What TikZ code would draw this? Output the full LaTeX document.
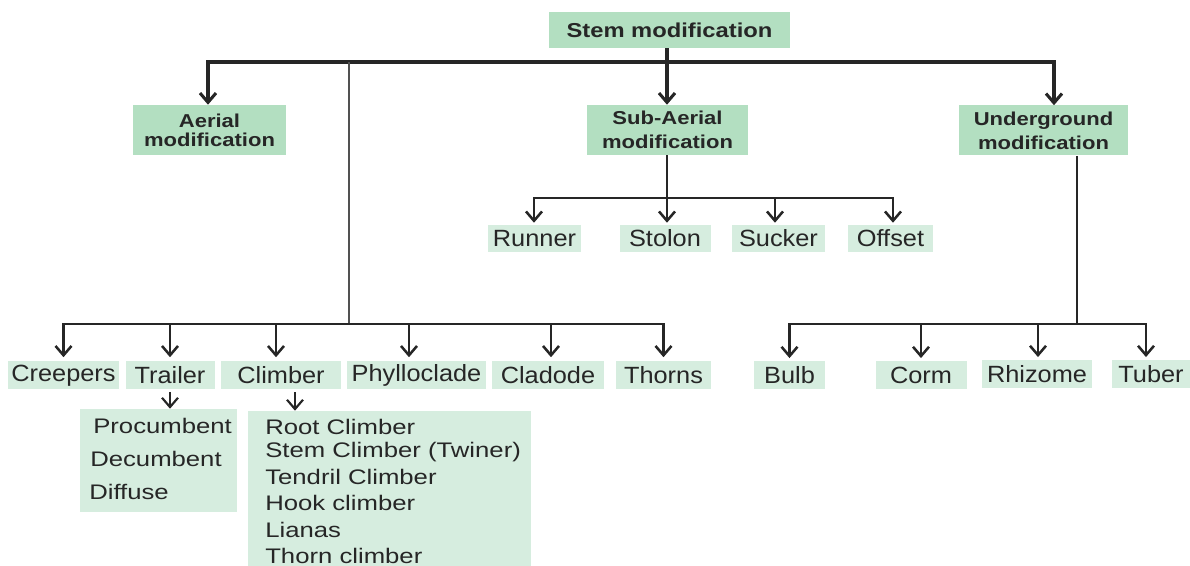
\documentclass[tikz,border=0pt]{standalone}
\usepackage{fontspec}
\setmainfont{Liberation Sans}
\newfontfamily\boldwide[FakeStretch=1.18]{Liberation Sans}
\newfontfamily\leafwide[FakeStretch=1.08]{Liberation Sans}
\newfontfamily\listwide[FakeStretch=1.22]{Liberation Sans}
\usetikzlibrary{arrows.meta}
\definecolor{boxA}{HTML}{B3DFC1}
\definecolor{boxB}{HTML}{D6EDDF}
\definecolor{txt}{HTML}{262626}
\definecolor{ln}{HTML}{262626}
\tikzset{
  wh/.style 2 args={minimum width=#1*0.75pt,minimum height=#2*0.75pt},
  top/.style={fill=boxA,inner sep=0pt,text=txt,align=center,font=\boldwide\fontsize{14}{18}\selectfont\bfseries},
  leaf/.style={fill=boxB,inner sep=0pt,text=txt,font=\leafwide\fontsize{17.6}{20}\selectfont},
  item/.style={anchor=west,inner sep=0pt,text=txt,font=\listwide\fontsize{15.8}{18}\selectfont},
  bus/.style={draw=ln,line width=2.3pt},
  wire/.style={draw=ln,line width=1.9pt},
  trunk/.style={draw=ln!80,line width=1.9pt},
  >={Straight Barb[length=7pt,width=12pt]},
}
\begin{document}
\begin{tikzpicture}[x=0.75pt,y=-0.75pt]
\useasboundingbox (0,0) rectangle (1190,566);
% level 0 and 1
\node[top,wh={241}{36},font=\boldwide\fontsize{15.1}{17}\selectfont\bfseries] (stem) at (669.5,30) {Stem modification};
\node[top,wh={153}{50},font=\boldwide\fontsize{14}{14.5}\selectfont\bfseries] (aerial) at (209.5,130) {\raisebox{-8pt}{\parbox{100pt}{\centering Aerial\\modification}}};
\node[top,wh={161}{50}] (subaerial) at (667.5,130) {Sub-Aerial\\modification};
\node[top,wh={169}{50}] (under) at (1043.5,130.5) {Underground\\modification};
% sub-aerial leaves
\node[leaf,wh={93}{27}] (runner) at (534.5,238.5) {Runner};
\node[leaf,wh={91}{27}] (stolon) at (665,238.5) {Stolon};
\node[leaf,wh={93}{27}] (sucker) at (778.5,238.5) {Sucker};
\node[leaf,wh={85}{27}] (offset) at (890.5,238.5) {Offset};
% aerial leaves
\node[leaf,wh={111}{28}] (creepers) at (63.5,375.5) {Creepers};
\node[leaf,wh={89}{28}] (trailer) at (170,375.5) {Trailer};
\node[leaf,wh={120}{28}] (climber) at (281,375.5) {Climber};
\node[leaf,wh={139}{28}] (phyllo) at (416.5,375.5) {Phylloclade};
\node[leaf,wh={112}{28}] (cladode) at (548,375.5) {Cladode};
\node[leaf,wh={95}{28}] (thorns) at (663.5,375.5) {Thorns};
% underground leaves
\node[leaf,wh={71}{28}] (bulb) at (789.5,375) {Bulb};
\node[leaf,wh={91}{28}] (corm) at (921,375) {Corm};
\node[leaf,wh={110}{28}] (rhizome) at (1037,374) {Rhizome};
\node[leaf,wh={78}{28}] (tuber) at (1151,374) {Tuber};
% sub lists
\node[fill=boxB,inner sep=0pt,wh={157}{103}] (tsub) at (158.5,460.5) {};
\node[item] (t1) at (93,426) {Procumbent};
\node[item] (t2) at (90,459) {Decumbent};
\node[item] (t3) at (89,492) {Diffuse};
\node[fill=boxB,inner sep=0pt,wh={283}{155}] (csub) at (389.5,488.5) {};
\node[item] (c1) at (265,427) {Root Climber};
\node[item] (c2) at (265,452) {Stem Climber (Twiner)};
\node[item] (c3) at (265,477) {Tendril Climber};
\node[item] (c4) at (265,503) {Hook climber};
\node[item] (c5) at (265,530) {Lianas};
\node[item] (c6) at (265,555.5) {Thorn climber};
% connector coordinates
\coordinate (tbus) at (667,62);
\coordinate (tL) at (208,62);
\coordinate (tR) at (1054,62);
\coordinate (ajunc) at (349,62);
\coordinate (abus) at (349,324);
\coordinate (sbus) at (667,198);
\coordinate (sL) at (534,198);
\coordinate (sS) at (775,198);
\coordinate (sR) at (893,198);
\coordinate (aClimb) at (276,324);
\coordinate (aPhyl) at (409,324);
\coordinate (aClad) at (551,324);
\coordinate (ubus) at (1077,324);
\coordinate (uRh) at (1038,324);
\coordinate (uTu) at (1146,324);
\coordinate (carr) at (295,0);
% level 0 -> 1
\draw[bus,<->] (aerial.north -| tL) |- (tbus) -| (under.north -| tR);
\draw[bus,->] (stem.south -| tbus) -- (subaerial.north -| tbus);
% aerial
\draw[trunk] (ajunc) -- (abus);
\draw[wire,<->,shorten <=3pt,shorten >=3pt] (creepers.north) |- (abus) -| (thorns.north);
\draw[wire,->,shorten >=3pt] (trailer.north |- abus) -- (trailer.north);
\draw[wire,->,shorten >=3pt] (aClimb) -- (climber.north -| aClimb);
\draw[wire,->,shorten >=3pt] (aPhyl) -- (phyllo.north -| aPhyl);
\draw[wire,->,shorten >=3pt] (aClad) -- (cladode.north -| aClad);
% sub-aerial
\draw[wire,->,shorten >=1.5pt] (subaerial.south -| sbus) -- (stolon.north -| sbus);
\draw[wire,<->,shorten <=1.5pt,shorten >=1.5pt] (runner.north -| sL) |- (sbus) -| (offset.north -| sR);
\draw[wire,->,shorten >=1.5pt] (sS) -- (sucker.north -| sS);
% underground
\draw[wire] (under.south -| ubus) -- (ubus);
\draw[wire,<->,shorten <=2pt,shorten >=2pt] (bulb.north) |- (ubus) -| (tuber.north -| uTu);
\draw[wire,->,shorten >=2pt] (corm.north |- ubus) -- (corm.north);
\draw[wire,->,shorten >=2pt] (uRh) -- (rhizome.north -| uRh);
% sub lists
\draw[wire,line width=1.6pt,->,shorten <=1.5pt] (trailer.south) -- (trailer.south |- tsub.north);
\draw[wire,line width=1.6pt,->,shorten <=2pt] (climber.south -| carr) -- (csub.north -| carr);
\end{tikzpicture}
\end{document}
